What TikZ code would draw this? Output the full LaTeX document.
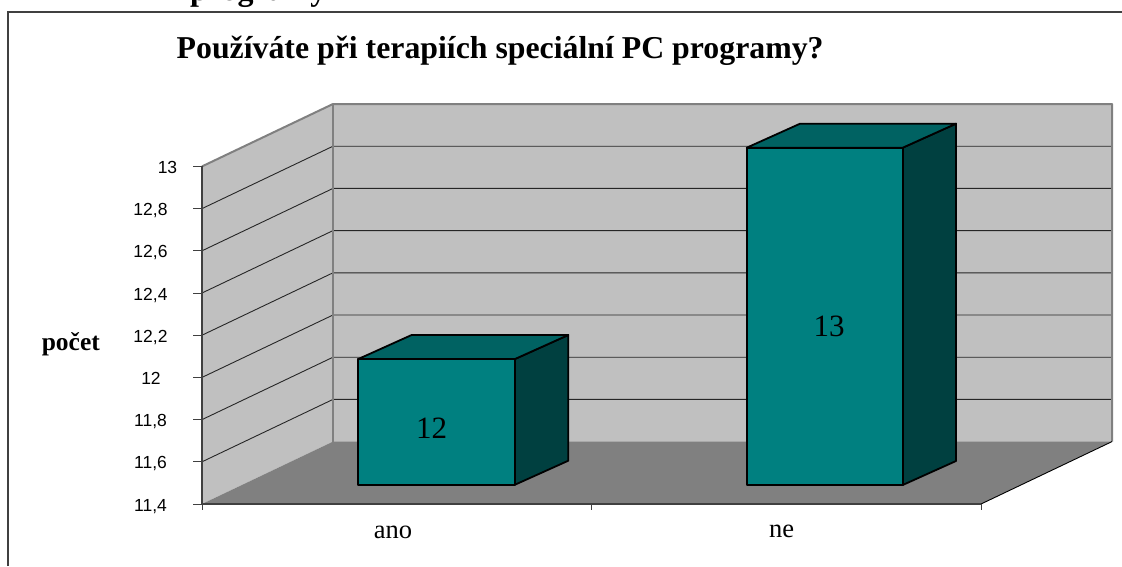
\documentclass[tikz,border=0pt]{standalone}
\usepackage{fontspec}
\setmainfont{Liberation Serif}
\newfontfamily\arialf{Liberation Sans}
\definecolor{wallgray}{HTML}{C0C0C0}
\definecolor{floorgray}{HTML}{808080}
\definecolor{edgegray}{HTML}{808080}
\definecolor{framegray}{HTML}{404040}
\definecolor{tealfront}{HTML}{008080}
\definecolor{tealtop}{HTML}{006262}
\definecolor{tealside}{HTML}{004040}
\begin{document}
\begin{tikzpicture}[x=1pt,y=-1pt,
  wall/.style={fill=wallgray,draw=none},
  floorface/.style={fill=floorgray,draw=none},
  wedge/.style={draw=edgegray,line width=2pt,line join=round},
  gridline/.style={draw=black!85,line width=0.9pt},
  axisline/.style={draw=framegray,line width=1.4pt},
  thinline/.style={draw=black,line width=0.9pt},
  barface/.style={draw=black,line width=1.8pt,line join=round},
  ylab/.style={font=\arialf\fontsize{17.5}{20}\selectfont,anchor=base,inner sep=0pt},
  catlab/.style={font=\fontsize{26.5}{30}\selectfont,anchor=base,inner sep=0pt},
  vallab/.style={font=\fontsize{31}{34}\selectfont,anchor=base,inner sep=0pt}
]
\useasboundingbox (0,0) rectangle (1122,566);
\fill[white] (0,0) rectangle (1122,566);

% cut-off heading text at the top
\begin{scope}
\clip (0,0) rectangle (1122,566);
\node[anchor=base west,inner sep=0pt,font=\bfseries\fontsize{32}{36}\selectfont] (cut) at (190,0.6) {programy};
\end{scope}

% frame
\draw[draw=framegray,line width=2pt] (8,566) -- (8,12) -- (1122,12);

% title
\node[anchor=base west,inner sep=0pt,font=\bfseries\fontsize{31.8}{36}\selectfont] (title) at (176.5,58.3) {Používáte při terapiích speciální PC programy?};

% chart corners
\coordinate (FL) at (202,504);
\coordinate (FT) at (202,166.4);
\coordinate (BL) at (333,441.6);
\coordinate (BT) at (333,104);
\coordinate (BRT) at (1112,104);
\coordinate (BRB) at (1112,441.6);
\coordinate (FR) at (981,504);

% walls and floor
\path[wall] (FL) -- (FT) -- (BT) -- (BL) -- cycle;
\path[wall] (BL) -- (BT) -- (BRT) -- (BRB) -- cycle;
\path[floorface] (FL) -- (BL) -- (BRB) -- (FR) -- cycle;

% gridlines
\foreach \i in {1,...,7}{
  \pgfmathsetmacro{\yy}{504-\i*42.2}
  \pgfmathsetmacro{\yb}{\yy-62.4}
  \draw[gridline] (202,\yy) -- (333,\yb) -- (1112,\yb);
}

% wall edges
\draw[wedge] (FT) -- (BT) -- (BRT) -- (BRB);
\draw[wedge] (BT) -- (BL);

% axes
\draw[thinline] (FR) -- (BRB);
\draw[axisline] (FT) -- (FL) -- (FR);
\foreach \i in {0,...,8}{
  \pgfmathsetmacro{\yy}{504-\i*42.2}
  \draw[axisline,line width=1pt] (193,\yy) -- (202,\yy);
}
\draw[axisline,line width=1pt] (202,504) -- (202,510);
\draw[axisline,line width=1pt] (591.5,504) -- (591.5,510);
\draw[axisline,line width=1pt] (981,504) -- (981,510);

% y labels
\node[ylab] (l13) at (167.5,173.4) {13};
\node[ylab] (l128) at (150.5,215.6) {12,8};
\node[ylab] (l126) at (150.5,257.8) {12,6};
\node[ylab] (l124) at (150.5,300.0) {12,4};
\node[ylab] (l122) at (150.5,342.2) {12,2};
\node[ylab] (l12) at (151,384.4) {12};
\node[ylab] (l118) at (150.5,426.6) {11,8};
\node[ylab] (l116) at (150.5,468.8) {11,6};
\node[ylab] (l114) at (150.5,511.0) {11,4};

% axis title
\node[anchor=base,inner sep=0pt,font=\bfseries\fontsize{25.5}{30}\selectfont] (pocet) at (70.8,350) {počet};

% bar ano
\filldraw[barface,fill=tealside] (515,359) -- (568.3,335) -- (568.3,460.7) -- (515,484.7) -- cycle;
\filldraw[barface,fill=tealtop] (358.3,359) -- (411.6,335) -- (568.3,335) -- (515,359) -- cycle;
\filldraw[barface,fill=tealfront] (358.3,359) rectangle (515,484.7);
\node[vallab] (v12) at (431.5,438.3) {12};

% bar ne
\filldraw[barface,fill=tealside] (902.7,147.7) -- (956,123.7) -- (956,461) -- (902.7,485) -- cycle;
\filldraw[barface,fill=tealtop] (746.7,147.7) -- (800,123.7) -- (956,123.7) -- (902.7,147.7) -- cycle;
\filldraw[barface,fill=tealfront] (746.7,147.7) rectangle (902.7,485);
\node[vallab] (v13) at (829,336) {13};

% category labels
\node[catlab] (ano) at (393,538.3) {ano};
\node[catlab] (ne) at (781.5,537.7) {ne};
\end{tikzpicture}
\end{document}
